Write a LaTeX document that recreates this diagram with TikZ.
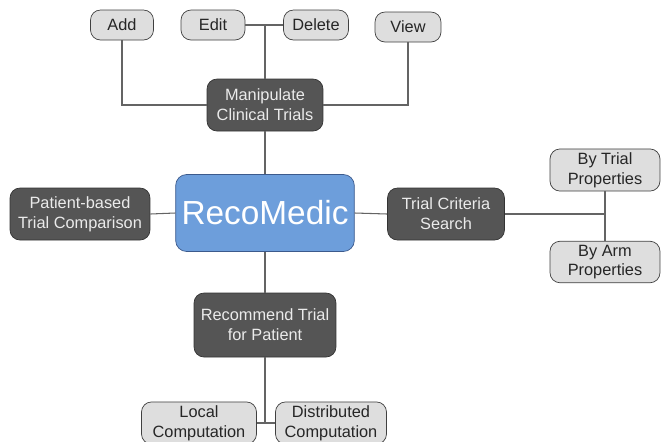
\documentclass[tikz,border=0pt]{standalone}
\usepackage{fontspec}
\setmainfont{Liberation Sans}
\usetikzlibrary{positioning}

\definecolor{hubblue}{RGB}{109,158,219}
\definecolor{hubedge}{RGB}{60,90,140}
\definecolor{taskgray}{RGB}{85,85,85}
\definecolor{leafgray}{RGB}{222,222,222}
\definecolor{linegray}{RGB}{100,100,100}

\begin{document}
\begin{tikzpicture}
  [x=0.02cm, y=-0.02cm,
   hub/.style={draw=hubedge, fill=hubblue, rounded corners=0.22cm, text=white,
     minimum width=3.54cm, minimum height=1.54cm, font=\fontsize{19}{22}\selectfont},
   task/.style={draw=black!80, fill=taskgray, rounded corners=0.2cm, text=white!92!black,
     align=center, minimum height=1.04cm, inner sep=2pt,
     font=\fontsize{9.3}{11.3}\selectfont},
   leaf/.style={draw=black!75, fill=leafgray, rounded corners=0.2cm, text=black!85,
     align=center, minimum height=0.6cm, inner sep=2pt,
     font=\fontsize{9.3}{11.3}\selectfont},
   link/.style={draw=linegray, line width=0.6pt}]
  \useasboundingbox (0,0) rectangle (664,441);

  \node[hub] (reco) at (265,213) {RecoMedic};

  \node[task, minimum width=2.32cm] (manip) at (265,105) {Manipulate\\Clinical Trials};
  \node[task, minimum width=2.8cm] (compare) at (80,214) {Patient-based\\Trial Comparison};
  \node[task, minimum width=2.34cm] (search) at (446,214) {Trial Criteria\\Search};
  \node[task, minimum width=2.84cm, minimum height=1.28cm] (recommend) at (265,325) {Recommend Trial\\for Patient};

  \node[leaf, minimum width=1.26cm] (add) at (122,25) {Add};
  \node[leaf, minimum width=1.28cm] (edit) at (213,25) {Edit};
  \node[leaf, minimum width=1.3cm] (delete) at (316,25) {Delete};
  \node[leaf, minimum width=1.32cm] (view) at (408,27) {View};
  \node[leaf, minimum width=2.2cm, minimum height=0.8cm] (bytrial) at (605,170) {By Trial\\Properties};
  \node[leaf, minimum width=2.2cm, minimum height=0.8cm] (byarm) at (605,262) {By Arm\\Properties};
  \node[leaf, minimum width=2.3cm, minimum height=0.8cm] (local) at (199,423) {Local\\Computation};
  \node[leaf, minimum width=2.22cm, minimum height=0.8cm] (distrib) at (331,423) {Distributed\\Computation};

  % manipulate branch
  \draw[link] (edit.east) -- (delete.west);
  \draw[link] (manip.north) -- (manip.north |- edit.east);
  \draw[link] (add.south) |- (manip.west);
  \draw[link] (view.south) |- (manip.east);
  \draw[link] (manip.south) -- (reco.north);

  % side branches
  \draw[link] (compare.east) -- (reco.west);
  \draw[link] (reco.east) -- (search.west);
  \draw[link] (search.east) -- (search.east -| bytrial.south);
  \draw[link] (bytrial.south) -- (byarm.north);

  % recommend branch
  \draw[link] (reco.south) -- (recommend.north);
  \draw[link] (local.east) -- (distrib.west);
  \draw[link] (recommend.south) -- (recommend.south |- local.east);
\end{tikzpicture}
\end{document}
